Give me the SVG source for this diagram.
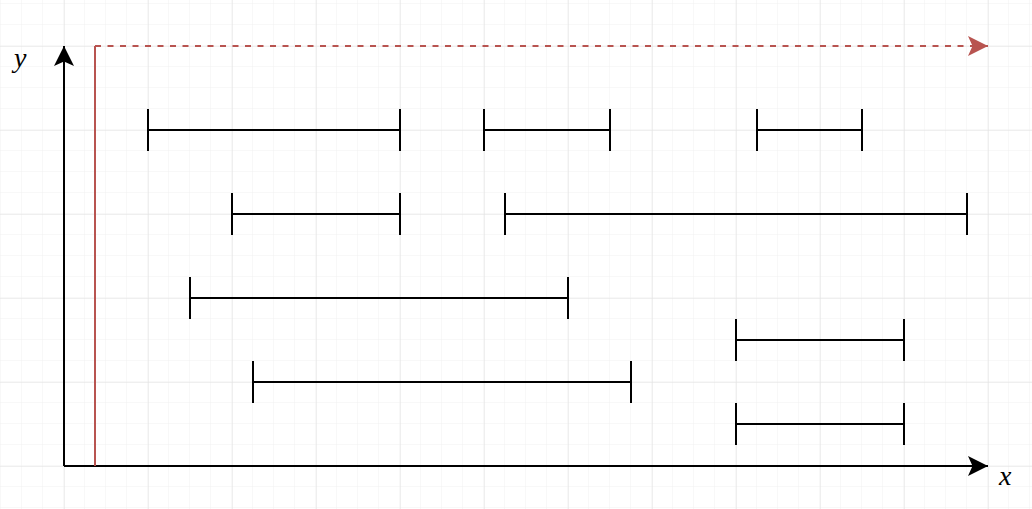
<svg xmlns="http://www.w3.org/2000/svg" width="1032" height="509" viewBox="0 0 1032 509">
<defs>
<pattern id="minor" x="1" y="4" width="21" height="21" patternUnits="userSpaceOnUse">
<path d="M21 0V21M0 21H21" fill="none" stroke="#f0f0f0" stroke-width="1"/>
</pattern>
<pattern id="major" x="-20" y="46" width="84" height="84" patternUnits="userSpaceOnUse">
<path d="M0 0V84M0 0H84" fill="none" stroke="#e0e0e0" stroke-width="1"/>
</pattern>
<marker id="arrK" markerWidth="22" markerHeight="22" viewBox="0 0 22 22" refX="20" refY="11" orient="auto" markerUnits="userSpaceOnUse">
<path d="M0 1L20 11L0 21L4.5 11Z" fill="#000"/>
</marker>
<marker id="arrR" markerWidth="22" markerHeight="22" viewBox="0 0 22 22" refX="20" refY="11" orient="auto" markerUnits="userSpaceOnUse">
<path d="M0 1L20 11L0 21L4.5 11Z" fill="#b85450"/>
</marker>
</defs>
<style>
.iv{fill:none;stroke:#000;stroke-width:2}
.lbl{font-family:"Liberation Serif",serif;font-style:italic;font-size:28px;fill:#000}
</style>
<rect width="1032" height="509" fill="#fff"/>
<rect width="1032" height="509" fill="url(#minor)"/>
<rect width="1032" height="509" fill="url(#major)"/>
<g id="connectors">
<path d="M64 466V46" fill="none" stroke="#000" stroke-width="2" marker-end="url(#arrK)"/>
<path d="M64 466H988" fill="none" stroke="#000" stroke-width="2" marker-end="url(#arrK)"/>
<path d="M95 466V46" fill="none" stroke="#b85450" stroke-width="2"/>
<path d="M95 46H988" fill="none" stroke="#b85450" stroke-width="2" stroke-dasharray="6 6.5" marker-end="url(#arrR)"/>
</g>
<g id="label-y"><text class="lbl" x="14" y="67">y</text></g>
<g id="label-x"><text class="lbl" x="999" y="485">x</text></g>
<g id="i1"><path class="iv" d="M148 130H400M148 109V151M400 109V151"/></g>
<g id="i2"><path class="iv" d="M484 130H610M484 109V151M610 109V151"/></g>
<g id="i3"><path class="iv" d="M757 130H862M757 109V151M862 109V151"/></g>
<g id="i4"><path class="iv" d="M232 214H400M232 193V235M400 193V235"/></g>
<g id="i5"><path class="iv" d="M505 214H967M505 193V235M967 193V235"/></g>
<g id="i6"><path class="iv" d="M190 298H568M190 277V319M568 277V319"/></g>
<g id="i7"><path class="iv" d="M736 340H904M736 319V361M904 319V361"/></g>
<g id="i8"><path class="iv" d="M253 382H631M253 361V403M631 361V403"/></g>
<g id="i9"><path class="iv" d="M736 424H904M736 403V445M904 403V445"/></g>
</svg>
